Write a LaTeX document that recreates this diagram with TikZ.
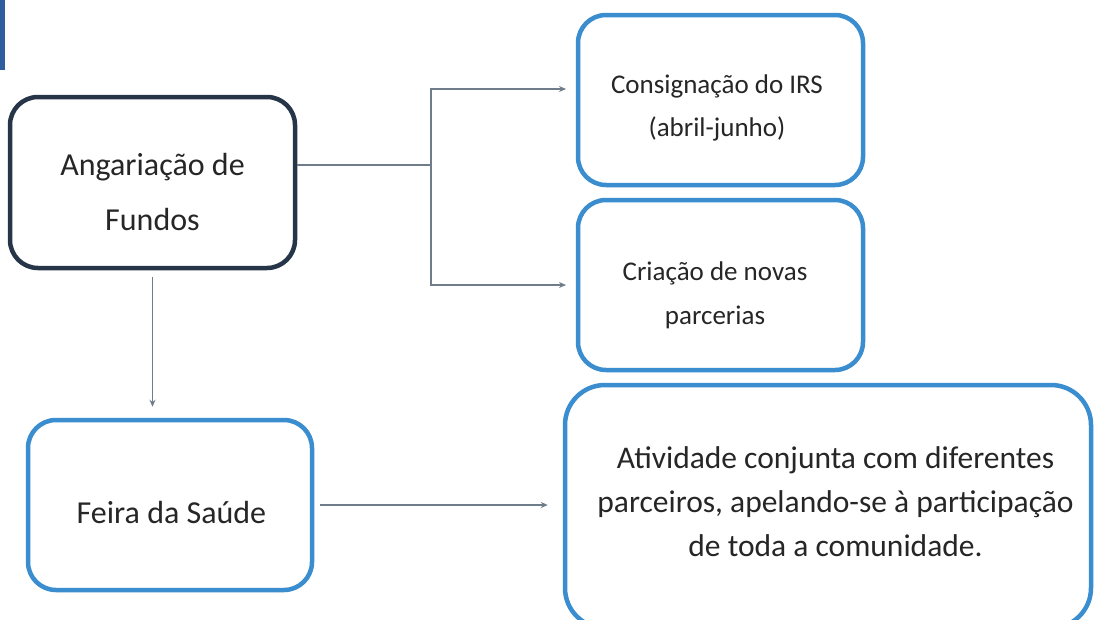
\documentclass[tikz,border=0pt]{standalone}
\usepackage{fontspec}
\setmainfont{Carlito}
\usetikzlibrary{arrows.meta}
\definecolor{darkb}{HTML}{263648}
\definecolor{blueb}{HTML}{3A8DCF}
\definecolor{barc}{HTML}{2E5E9E}
\definecolor{connc}{HTML}{6F7C89}
\definecolor{txt}{HTML}{262626}
\begin{document}
\begin{tikzpicture}[x=1pt,y=-1pt,
  box/.style={draw=blueb, line width=4.5pt, rounded corners=28pt, inner sep=0pt},
  lbl/.style={align=center, text=txt, inner sep=0pt},
  line/.style={draw=connc, line width=1.2pt},
  conn/.style={line, -{Stealth[length=7pt,width=6pt]}}]
\useasboundingbox (0,0) rectangle (1095,619);
\fill[white] (0,0) rectangle (1095,619);
\fill[barc] (0,0) rectangle (4.5,70);
% boxes
\node[box, draw=darkb, minimum width=285pt, minimum height=171pt] (af) at (152.5,182.5) {};
\node[box, minimum width=285pt, minimum height=170pt] (cons) at (720.5,100) {};
\node[box, minimum width=285pt, minimum height=170pt] (cria) at (720.5,285) {};
\node[box, minimum width=284pt, minimum height=170pt] (fe) at (170,505) {};
\node[box, rounded corners=40pt, minimum width=526pt, minimum height=243pt] (at) at (828,506.5) {};
% texts
\node[lbl, font=\fontsize{32}{55}\selectfont] (aft) at (152.5,192) {Angariação de\\Fundos};
\node[lbl, font=\fontsize{27}{43}\selectfont] (const) at (717,107.5) {Consignação do IRS\\(abril-junho)};
\node[lbl, font=\fontsize{27}{44}\selectfont] (criat) at (715,295) {Criação de novas\\parcerias};
\node[lbl, font=\fontsize{32}{44}\selectfont] (fet) at (171.5,512) {Feira da Saúde};
\node[lbl, font=\fontsize{31.5}{44}\selectfont] (att) at (835.5,502)
      {Atividade conjunta com diferentes\\parceiros, apelando-se à participação\\de toda a comunidade.};
% connectors
\coordinate (br) at (431,165);
\coordinate (t1) at (566,89);
\coordinate (t2) at (566,285);
\draw[line] (af.east |- br) -- (br);
\draw[conn] (br) |- (t1);
\draw[conn] (br) |- (t2);
\draw[conn, shorten <=7pt, shorten >=11pt] (af.south) -- (af.south |- fe.north);
\draw[conn, shorten <=6pt, shorten >=15pt] (fe.east) -- (fe.east -| at.west);
\end{tikzpicture}
\end{document}
